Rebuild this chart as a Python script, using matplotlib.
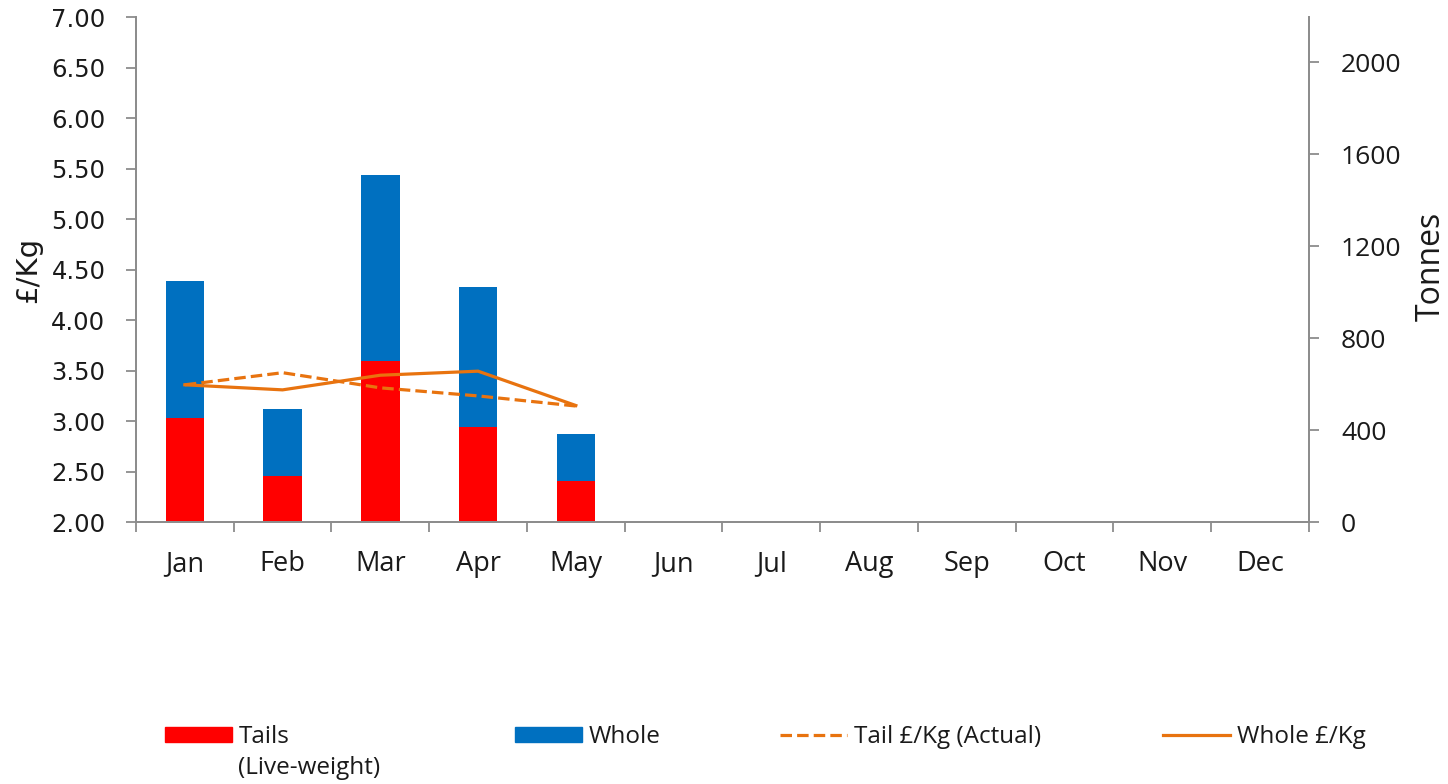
import numpy as np
import matplotlib.pyplot as plt
from matplotlib.patches import Patch
from matplotlib.lines import Line2D

# data
months = ["Jan", "Feb", "Mar", "Apr", "May", "Jun", "Jul", "Aug", "Sep", "Oct", "Nov", "Dec"]
tails_t = [453, 200, 699, 414, 177]
whole_t = [598, 291, 813, 609, 208]
tail_price = [3.36, 3.48, 3.33, 3.25, 3.15]
whole_price = [3.36, 3.31, 3.455, 3.495, 3.155]

red = "#FF0000"
blue = "#0070C0"
orange = "#E8730F"
grey = "#8C8C8C"
txt = "#1A1A1A"
side_font = "Open Sans"
dash = (0, (3.6, 1.6))

fig = plt.figure(figsize=(14.48, 7.84), dpi=100)
ax = fig.add_axes([0.0939, 0.334, 0.8101, 0.644])
ax2 = ax.twinx()

x = np.arange(len(tails_t))
ax2.bar(x, tails_t, width=0.395, color=red, zorder=2)
ax2.bar(x, whole_t, width=0.395, bottom=tails_t, color=blue, zorder=2)

ax.set_zorder(ax2.get_zorder() + 1)
ax.patch.set_visible(False)
ax.plot(x, tail_price, color=orange, lw=2.3, ls=dash)
ax.plot(x, whole_price, color=orange, lw=2.3)

ax.set_xlim(-0.5, 11.5)
ax.set_ylim(2.0, 7.0)
ax2.set_ylim(0, 2196)

yt = np.arange(2.0, 7.01, 0.5)
ax.set_yticks(yt)
ax.set_yticklabels([f"{v:.2f}" for v in yt], fontsize=17.5, color=txt)
ax2.set_yticks(np.arange(0, 2001, 400))
ax2.set_yticklabels([str(v) for v in range(0, 2001, 400)], fontsize=19,
                    family=side_font, color=txt)

ax.set_xticks(np.arange(-0.5, 12, 1))
ax.set_xticklabels([])
ax.set_xticks(np.arange(12), minor=True)
ax.set_xticklabels(months, minor=True, fontsize=19.5, family=side_font, color=txt)
ax.tick_params(axis="x", which="major", length=7.5, width=1.3, color=grey, direction="out")
ax.tick_params(axis="x", which="minor", length=0, pad=20)
ax.tick_params(axis="y", length=7, width=1.3, color=grey, pad=15)
ax2.tick_params(axis="y", length=7, width=1.3, color=grey, pad=16)

for a in (ax, ax2):
    a.spines["top"].set_visible(False)
    for s in ("left", "right", "bottom"):
        a.spines[s].set_color(grey)
        a.spines[s].set_linewidth(1.3)

fig.text(0.0195, 0.656, "£/Kg", rotation=90, fontsize=21, va="center", ha="center", color=txt)
fig.text(0.9885, 0.66, "Tonnes", rotation=90, fontsize=23, va="center", ha="center",
         family=side_font, color=txt)

# legend: one entry per legend so each sits where the reference has it
entries = [
    (Patch(color=red), "Tails", 165),
    (Patch(color=blue), "Whole", 515),
    (Line2D([], [], color=orange, lw=2.3, ls=dash), "Tail £/Kg (Actual)", 780),
    (Line2D([], [], color=orange, lw=2.3), "Whole £/Kg", 1163),
]
row_y = 1 - 737 / 784
for h, lab, px in entries:
    leg = fig.legend([h], [lab], loc="center left", bbox_to_anchor=(px / 1448, row_y),
                     frameon=False, handlelength=2.75, handleheight=0.55,
                     handletextpad=0.3, prop={"family": side_font, "size": 17.5},
                     borderaxespad=0, borderpad=0)
    leg.get_texts()[0].set_color(txt)
fig.text(238 / 1448, 1 - 768 / 784, "(Live-weight)", family=side_font, fontsize=17.5,
         va="center", ha="left", color=txt)

fig.savefig("out.png", dpi=100)
